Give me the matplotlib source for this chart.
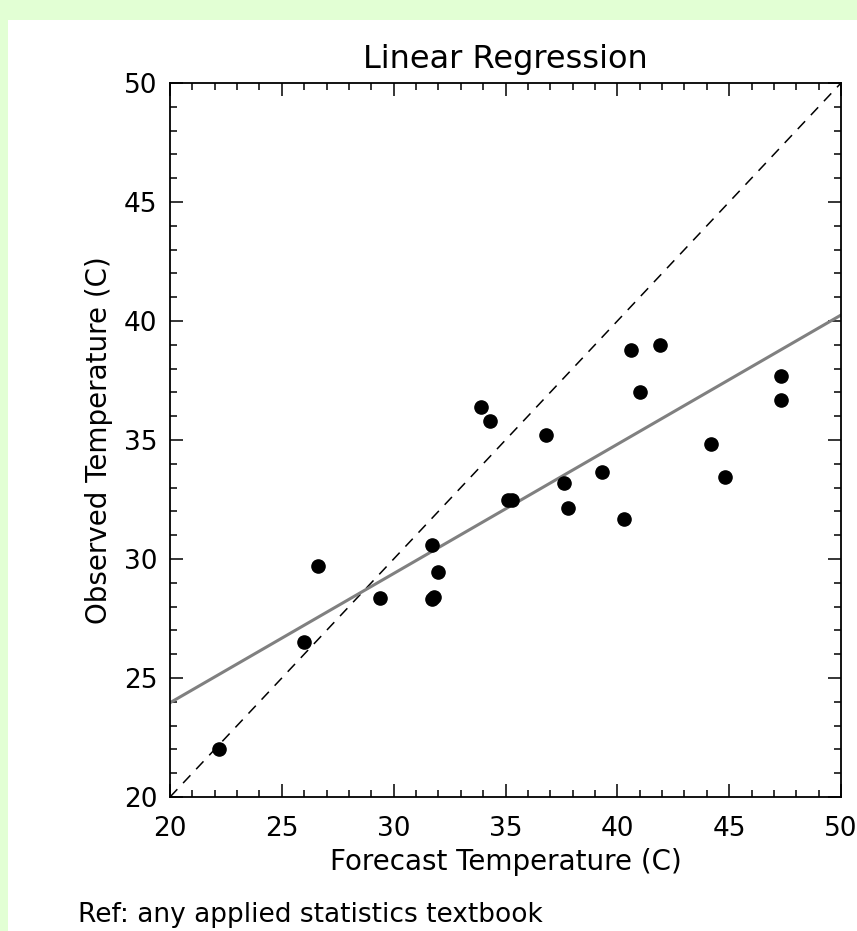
"""
Forecast vs observed temperature with a least-squares fit.
"""

import numpy as np
import matplotlib.pyplot as plt
from matplotlib.patches import Rectangle
from matplotlib.ticker import MultipleLocator

# forecast / observed pairs (deg C)
forecast = [22.2, 26.0, 26.6, 29.4, 31.7, 31.8, 31.7, 32.0, 33.9, 34.3,
            35.1, 35.3, 36.8, 37.6, 37.8, 39.3, 40.3, 40.6, 41.0, 41.9,
            44.2, 44.8, 47.3, 47.3]
observed = [22.0, 26.5, 29.7, 28.35, 28.3, 28.4, 30.6, 29.45, 36.4, 35.8,
            32.5, 32.5, 35.2, 33.2, 32.15, 33.65, 31.7, 38.8, 37.0, 39.0,
            34.85, 33.45, 37.7, 36.7]
axis_range = [20, 50]

# regression line as drawn in the reference
fit_slope = 0.543
fit_intercept = 13.1

BG_GREEN = "#e2ffd4"

plt.rcParams["font.family"] = ["DejaVu Sans"]

fig = plt.figure(figsize=(8.57, 9.31), dpi=100, facecolor=BG_GREEN)
fig.patches.append(Rectangle((8 / 857, 0), 1, 1 - 20 / 931,
                             transform=fig.transFigure, facecolor="white",
                             edgecolor="none", zorder=-1))

ax = fig.add_axes([170 / 857, 1 - 797 / 931, 671 / 857, 714 / 931])
ax.set_xlim(axis_range)
ax.set_ylim(axis_range)

x = np.array(forecast)
y = np.array(observed)
xx = np.array(axis_range, dtype=float)

ax.plot(xx, xx, color="black", lw=1.1, ls=(0, (7, 5.5)), zorder=2)
ax.plot(xx, fit_slope * xx + fit_intercept, color="#808080", lw=2.2, zorder=2)
ax.plot(x, y, "o", color="black", ms=9.5, zorder=3)

ax.xaxis.set_major_locator(MultipleLocator(5))
ax.xaxis.set_minor_locator(MultipleLocator(1))
ax.yaxis.set_major_locator(MultipleLocator(5))
ax.yaxis.set_minor_locator(MultipleLocator(1))
ax.tick_params(which="both", direction="in", top=True, right=True,
               width=1.1, labelsize=19)
ax.tick_params(which="major", length=9.5)
ax.tick_params(which="minor", length=5)
ax.tick_params(axis="x", which="major", pad=14)
ax.tick_params(axis="y", which="major", pad=9)
for sp in ax.spines.values():
    sp.set_linewidth(1.3)

ax.set_title("Linear Regression", fontsize=23, pad=11)
ax.set_xlabel("Forecast Temperature (C)", fontsize=20, labelpad=4)
ax.set_ylabel("Observed Temperature (C)", fontsize=20, labelpad=8)

# footer sits at the very bottom edge, kept just inside the canvas
fig.text(78 / 857, 3 / 931, "Ref: any applied statistics textbook",
         fontsize=19, va="bottom", ha="left")

fig.savefig("out.png", dpi=100, facecolor=fig.get_facecolor())
